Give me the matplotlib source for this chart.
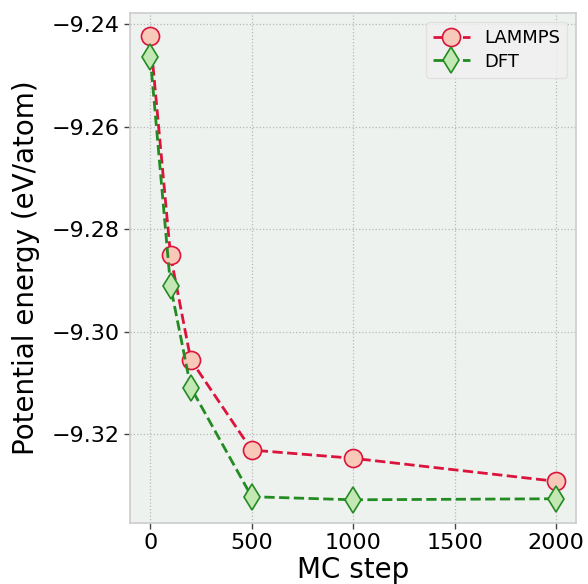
import matplotlib
matplotlib.use("Agg")
import matplotlib.pyplot as plt

mc_steps = [0, 100, 200, 500, 1000, 2000]
lammps = [-9.2423, -9.2851, -9.3055, -9.3231, -9.3247, -9.3292]
dft = [-9.2464, -9.2911, -9.3109, -9.3322, -9.3328, -9.3326]
x_ticks = [0, 500, 1000, 1500, 2000]
y_ticks = [-9.24, -9.26, -9.28, -9.30, -9.32]

plt.rcParams['font.family'] = ['DejaVu Sans']
fig = plt.figure(figsize=(5.88, 5.84), dpi=100)
ax = fig.add_axes([0.221, 0.1045, 0.759, 0.8735])
ax.set_facecolor('#eef2ee')

ax.plot(mc_steps, lammps, linestyle='--', color='#dc143c', lw=2,
        marker='o', markersize=13, markerfacecolor='#f8c8b8',
        markeredgecolor='#dc143c', markeredgewidth=1.2, label='LAMMPS', zorder=3)
ax.plot(mc_steps, dft, linestyle='--', color='#228b22', lw=2,
        marker='d', markersize=13, markerfacecolor='#c4e8b4',
        markeredgecolor='#228b22', markeredgewidth=1.2, label='DFT', zorder=3)

ax.set_xticks(x_ticks)
ax.set_yticks(y_ticks)
ax.set_yticklabels([f"{v:.2f}".replace('-', '\u2212') for v in y_ticks])
ax.grid(True, linestyle=':', color='#b8b8b8', linewidth=0.9)
ax.set_axisbelow(True)
for s in ax.spines.values():
    s.set_color('#cccccc')
    s.set_linewidth(1.2)
ax.tick_params(axis='both', labelsize=16, length=4, color='#444444', width=1, direction='out')
ax.set_xlabel('MC step', fontsize=20, labelpad=2)
ax.set_ylabel('Potential energy (eV/atom)', fontsize=20, labelpad=8)

leg = ax.legend(loc='upper right', fontsize=13, frameon=True, fancybox=True,
                borderpad=0.4, handlelength=2.0, labelspacing=0.3)
leg.get_frame().set_facecolor('#f0f0f0')
leg.get_frame().set_edgecolor('#dddddd')

fig.savefig('out.png', dpi=100)
